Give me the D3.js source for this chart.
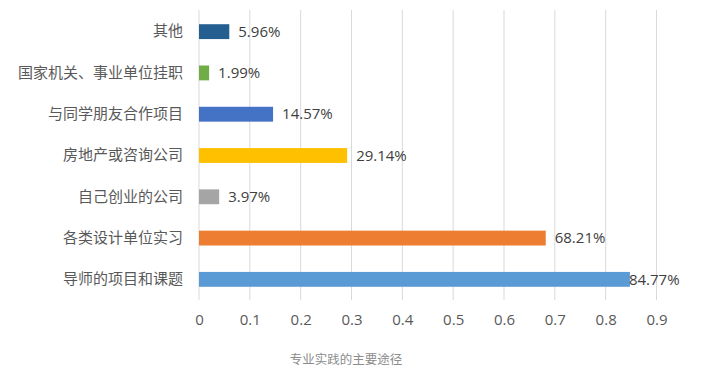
<!DOCTYPE html>
<html><head><meta charset="utf-8">
<script src="https://cdn.jsdelivr.net/npm/d3@7"></script>
<style>body{margin:0;background:#fff;} svg{display:block;}</style>
</head><body>
<svg id="c" width="701" height="371"></svg>
<script>
const categories = ["其他","国家机关、事业单位挂职","与同学朋友合作项目","房地产或咨询公司","自己创业的公司","各类设计单位实习","导师的项目和课题"];
const values = [0.0596,0.0199,0.1457,0.2914,0.0397,0.6821,0.8477];
const labels = ["5.96%","1.99%","14.57%","29.14%","3.97%","68.21%","84.77%"];
const colors = ["#255E91","#70AD47","#4472C4","#FFC000","#A5A5A5","#ED7D31","#5B9BD5"];
const ticks = [0,0.1,0.2,0.3,0.4,0.5,0.6,0.7,0.8,0.9];
const title = "专业实践的主要途径";

const font = "'Open Sans','Noto Sans CJK SC',sans-serif";
const cjk = "'Noto Sans CJK SC',sans-serif";
const svg = d3.select("#c");
const x = d3.scaleLinear().domain([0,0.9]).range([199,656.5]);
const y = d3.scaleBand().domain(categories).range([11,300]).paddingInner(0.64).paddingOuter(0.32);

// gridlines
svg.append("g").selectAll("line").data(ticks).join("line")
  .attr("x1",d=>x(d)).attr("x2",d=>x(d)).attr("y1",10).attr("y2",300)
  .attr("stroke","#d9d9d9").attr("stroke-width",1);

// x axis labels
const xa = svg.append("g").attr("transform","translate(0,300)")
  .call(d3.axisBottom(x).tickValues(ticks).tickSize(0).tickPadding(14).tickFormat(d3.format("~g")));
xa.select(".domain").remove();
xa.selectAll("text").attr("font-family",font).attr("font-size",15).attr("fill","#595959");

// y axis labels
const ya = svg.append("g").attr("transform","translate(183,0)")
  .call(d3.axisLeft(y).tickSize(0).tickPadding(0));
ya.select(".domain").remove();
ya.selectAll("text").attr("font-family",cjk).attr("font-size",15).attr("fill","#595959");

// bars
svg.append("g").selectAll("rect").data(values).join("rect")
  .attr("x",x(0)).attr("y",(d,i)=>y(categories[i]))
  .attr("width",d=>x(d)-x(0)).attr("height",y.bandwidth())
  .attr("fill",(d,i)=>colors[i]);

// value labels
svg.append("g").selectAll("text").data(values).join("text")
  .attr("x",(d,i)=> i===6 ? x(d)-1 : x(d)+9)
  .attr("y",(d,i)=>y(categories[i])+y.bandwidth()/2)
  .attr("dy","0.35em")
  .attr("font-family",font).attr("font-size",15).attr("fill","#404040")
  .text((d,i)=>labels[i]);

// title
svg.append("text").attr("x",346).attr("y",364).attr("text-anchor","middle")
  .attr("font-family",cjk).attr("font-size",12.5).attr("fill","#8c8c8c").text(title);
</script>
</body></html>
